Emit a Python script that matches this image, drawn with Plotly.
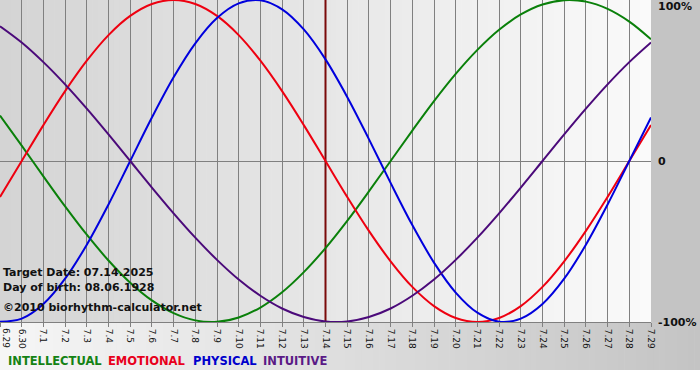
import plotly.graph_objects as go

# ---- data ----
day_labels = ["6.29", "6.30"] + [f"7.{d}" for d in range(1, 30)]
target_label = "7.14"

intellectual = [28.2, 9.5, -9.5, -28.2, -45.8, -61.8, -75.6, -86.6, -94.5, -99.0,
                -99.9, -97.2, -91.0, -81.5, -69.0, -54.1, -37.2, -18.9, 0.0, 18.9,
                37.2, 54.1, 69.0, 81.5, 91.0, 97.2, 99.9, 99.0, 94.5, 86.6, 75.6]
emotional = [-22.3, 0.0, 22.3, 43.4, 62.3, 78.2, 90.1, 97.5, 100.0, 97.5,
             90.1, 78.2, 62.3, 43.4, 22.3, 0.0, -22.3, -43.4, -62.3, -78.2,
             -90.1, -97.5, -100.0, -97.5, -90.1, -78.2, -62.3, -43.4, -22.3, 0.0, 22.3]
physical = [-99.8, -97.9, -88.8, -73.1, -52.0, -27.0, 0.0, 27.0, 52.0, 73.1,
            88.8, 97.9, 99.8, 94.2, 81.7, 63.1, 39.8, 13.6, -13.6, -39.8,
            -63.1, -81.7, -94.2, -99.8, -97.9, -88.8, -73.1, -52.0, -27.0, 0.0, 27.0]
intuitive = [83.7, 73.6, 61.4, 47.6, 32.5, 16.5, 0.0, -16.5, -32.5, -47.6,
             -61.4, -73.6, -83.7, -91.6, -96.9, -99.7, -99.7, -96.9, -91.6, -83.7,
             -73.6, -61.4, -47.6, -32.5, -16.5, 0.0, 16.5, 32.5, 47.6, 61.4, 73.6]

y_tick_vals = [100, 0, -100]
y_tick_text = ["100%", "0", "-100%"]

series_names = ["INTELLECTUAL", "EMOTIONAL", "PHYSICAL", "INTUITIVE"]
series_data = [intellectual, emotional, physical, intuitive]
line_colors = ["#0a800a", "#ee0010", "#0000dd", "#4b0a7a"]
label_colors = ["#148214", "#e8001c", "#0000cc", "#5a1a86"]

info_lines = ["Target Date: 07.14.2025", "Day of birth: 08.06.1928",
              "\u00a92010 biorhythm-calculator.net"]

# ---- geometry (pixels) ----
W, H = 700, 380
L, R, T, B = 0, 49, 0, 58
PW, PH = W - L - R, H - T - B

def px(xp):
    return (xp - L) / PW

def py(yp):
    return (T + PH - yp) / PH

x_idx = list(range(len(day_labels)))
target_idx = day_labels.index(target_label)

fig = go.Figure()

# target date marker
fig.add_trace(go.Scatter(x=[x_idx[target_idx]] * 2, y=[-100, 100], mode="lines",
                         line=dict(color="#7a0a0a", width=2), hoverinfo="skip",
                         showlegend=False))

for name, vals, col in zip(series_names, series_data, line_colors):
    fig.add_trace(go.Scatter(x=x_idx, y=vals, mode="lines", name=name,
                             line=dict(color=col, width=2, shape="spline", smoothing=1.0),
                             showlegend=False))

shapes = []
# plot area horizontal gradient
N = 120
for i in range(N):
    c = int(round(212 + (250 - 212) * i / (N - 1)))
    shapes.append(dict(type="rect", xref="paper", yref="paper",
                       x0=i / N, x1=(i + 1) / N + 0.001, y0=0, y1=1,
                       fillcolor=f"rgb({c},{c},{c})", line=dict(width=0), layer="below"))
# right panel
shapes.append(dict(type="rect", xref="paper", yref="paper",
                   x0=px(PW), x1=px(W), y0=0, y1=1,
                   fillcolor="rgb(196,196,196)", line=dict(width=0), layer="below"))
# bottom band gradient
M = 120
for i in range(M):
    c = int(round(246 - (246 - 196) * i / (M - 1)))
    shapes.append(dict(type="rect", xref="paper", yref="paper",
                       x0=px(W * i / M), x1=px(W * (i + 1) / M) + 0.001,
                       y0=py(370), y1=py(PH),
                       fillcolor=f"rgb({c},{c},{c})", line=dict(width=0), layer="below"))

annotations = []
ylab_pos = [7, 162, 322]
for txt, yp in zip(y_tick_text, ylab_pos):
    annotations.append(dict(text=f"<b>{txt}</b>", xref="paper", yref="paper",
                            x=px(656), y=py(yp), xanchor="left", yanchor="middle",
                            showarrow=False,
                            font=dict(family="DejaVu Sans", size=11, color="#111")))
for txt, yp in zip(info_lines, [272, 287, 307]):
    annotations.append(dict(text=f"<b>{txt}</b>", xref="paper", yref="paper",
                            x=px(1), y=py(yp), xanchor="left", yanchor="middle",
                            showarrow=False,
                            font=dict(family="DejaVu Sans", size=11, color="#111")))
for txt, col, xp in zip(series_names, label_colors, [6, 106, 191, 261]):
    annotations.append(dict(text=f"<b>{txt}</b>", xref="paper", yref="paper",
                            x=px(xp), y=py(361), xanchor="left", yanchor="middle",
                            showarrow=False,
                            font=dict(family="DejaVu Sans", size=11.5, color=col)))
# first day label sits at the left edge
annotations.append(dict(text=day_labels[0], xref="paper", yref="paper", x=0,
                        y=py(PH + 5), xanchor="left", yanchor="top", textangle=90,
                        showarrow=False, borderpad=0,
                        font=dict(family="DejaVu Sans", size=9, color="#111")))

fig.update_layout(
    width=W, height=H,
    margin=dict(l=L, r=R, t=T, b=B, pad=0),
    paper_bgcolor="white",
    plot_bgcolor="rgba(0,0,0,0)",
    shapes=shapes,
    annotations=annotations,
    showlegend=False,
    xaxis=dict(range=[0, len(day_labels) - 1], tickmode="array", tickvals=x_idx,
               ticktext=day_labels, tickangle=90, ticks="outside", ticklen=4,
               tickcolor="#808080", showgrid=True, gridcolor="#808080", gridwidth=1,
               showline=True, linecolor="#808080", linewidth=1, zeroline=False,
               tickfont=dict(family="DejaVu Sans", size=9, color="#111"),
               fixedrange=True),
    yaxis=dict(range=[-100, 100], showgrid=False, zeroline=True,
               zerolinecolor="#808080", zerolinewidth=1, showticklabels=False,
               ticks="", showline=False, fixedrange=True),
)

fig.write_html("out.html", config={"displayModeBar": False},
               post_script="document.body.style.margin='0px';document.body.style.overflow='hidden';")
